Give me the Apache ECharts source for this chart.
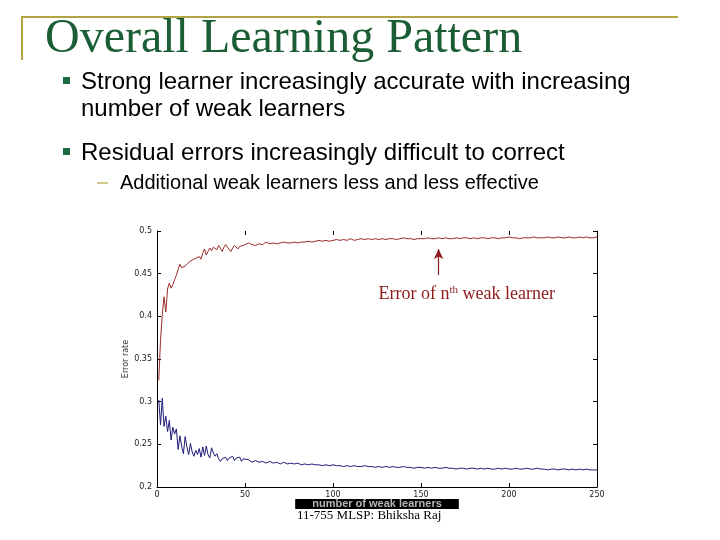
<!DOCTYPE html>
<html><head><meta charset="utf-8">
<script src="https://cdn.jsdelivr.net/npm/echarts@6/dist/echarts.min.js"></script>
<style>html,body{margin:0;padding:0;background:#fff}#c{width:720px;height:540px}</style>
</head><body><div id="c"></div>
<script>
// number of weak learners (x positions of samples)
const nValues = [1,2,3,4,5,6,7,8,9,10,11,12,13,14,15,16,17,18,19,20,21,22,23,24,25,26,27,28,29,30,
 31,32,33,34,35,36,37,38,39,40,41,42,43,44,45,46,47,48,49,50,
 52,54,56,58,60,62,64,66,68,70,72,74,76,78,80,82,84,86,88,90,
 92,94,96,98,100,102,104,106,108,110,112,114,116,118,120,122,124,126,128,130,
 132,134,136,138,140,142,144,146,148,150,152,154,156,158,160,162,164,166,168,170,
 172,174,176,178,180,182,184,186,188,190,192,194,196,198,200,202,204,206,208,210,
 212,214,216,218,220,222,224,226,228,230,232,234,236,238,240,242,244,246,248,250];
// error of n-th weak learner (red)
const weakError = [0.325,0.372,0.402,0.423,0.405,0.432,0.439,0.433,0.437,0.443,
 0.448,0.455,0.461,0.457,0.458,0.459,0.460,0.463,0.462,0.466,
 0.464,0.468,0.466,0.470,0.467,0.474,0.479,0.472,0.476,0.480,
 0.477,0.481,0.482,0.478,0.483,0.480,0.476,0.481,0.484,0.481,
 0.479,0.476,0.480,0.483,0.481,0.479,0.482,0.481,0.483,0.481,
 0.486,0.484,0.483,0.485,0.484,0.487,0.485,0.486,0.485,0.486,
 0.487,0.486,0.486,0.487,0.486,0.487,0.487,0.488,0.487,0.488,
 0.489,0.488,0.489,0.488,0.489,0.490,0.489,0.490,0.489,0.491,
 0.489,0.490,0.491,0.490,0.491,0.490,0.491,0.490,0.491,0.490,
 0.491,0.491,0.490,0.491,0.492,0.491,0.491,0.490,0.491,0.491,
 0.491,0.492,0.491,0.491,0.492,0.491,0.492,0.491,0.491,0.492,
 0.491,0.492,0.492,0.491,0.492,0.491,0.492,0.492,0.491,0.492,
 0.492,0.491,0.492,0.492,0.493,0.492,0.492,0.491,0.492,0.492,
 0.492,0.493,0.492,0.492,0.492,0.493,0.492,0.492,0.493,0.492,
 0.492,0.493,0.492,0.492,0.493,0.492,0.493,0.492,0.492,0.493];
// error of strong learner (blue)
const strongError = [0.302,0.273,0.304,0.271,0.283,0.265,0.278,0.255,0.270,0.262,
 0.268,0.244,0.260,0.248,0.239,0.259,0.247,0.238,0.251,0.241,
 0.236,0.243,0.238,0.245,0.235,0.247,0.237,0.248,0.238,0.234,
 0.246,0.240,0.236,0.239,0.233,0.230,0.233,0.232,0.235,0.231,
 0.234,0.232,0.236,0.231,0.234,0.232,0.235,0.230,0.233,0.231,
 0.232,0.229,0.231,0.229,0.230,0.228,0.230,0.228,0.229,0.227,
 0.229,0.227,0.228,0.227,0.228,0.226,0.227,0.226,0.227,0.226,
 0.226,0.225,0.226,0.225,0.226,0.225,0.225,0.224,0.225,0.224,
 0.225,0.224,0.224,0.225,0.224,0.224,0.223,0.224,0.223,0.224,
 0.223,0.224,0.223,0.223,0.224,0.223,0.223,0.222,0.223,0.223,
 0.222,0.223,0.222,0.223,0.222,0.222,0.223,0.222,0.222,0.221,
 0.222,0.222,0.221,0.222,0.222,0.221,0.222,0.221,0.222,0.221,
 0.221,0.222,0.221,0.222,0.221,0.221,0.222,0.221,0.221,0.222,
 0.221,0.221,0.222,0.221,0.221,0.220,0.221,0.221,0.220,0.221,
 0.221,0.220,0.221,0.220,0.221,0.220,0.221,0.220,0.220,0.220];
const arrowFrom = [160, 0.4485], arrowTo = [160, 0.479];
const annotationPos = [176, 0.426];

const chart = echarts.init(document.getElementById('c'), null, {renderer:'canvas'});
const tickFont = {fontFamily:'DejaVu Sans', fontSize:8, color:'#222'};
const pair = arr => nValues.map((n,i)=>[n, arr[i]]);
const gold = '#b3a443';
chart.setOption({
  backgroundColor:'#fff',
  animation:false,
  grid:{left:157, top:231, right:123, bottom:53, containLabel:false},
  xAxis:[{
    type:'value', min:0, max:250, interval:50, position:'bottom',
    axisLine:{show:true, onZero:false, lineStyle:{color:'#000', width:1}},
    axisTick:{show:true, inside:true, length:4, lineStyle:{color:'#000'}},
    axisLabel:Object.assign({margin:4}, tickFont),
    splitLine:{show:false},
    name:'number of weak learners', nameLocation:'middle', nameGap:12, nameMoveOverlap:false,
    nameTextStyle:{fontFamily:'Liberation Sans', fontWeight:'bold', fontSize:11, color:'#b5b5b5',
      backgroundColor:'#000', padding:[0,17,0,17], lineHeight:10, verticalAlign:'top'}
  },{
    type:'value', min:0, max:250, interval:50, position:'top',
    axisLine:{show:false},
    axisTick:{show:true, inside:true, length:4, lineStyle:{color:'#000'}},
    axisLabel:{show:false}, splitLine:{show:false}
  }],
  yAxis:[{
    type:'value', min:0.2, max:0.5, interval:0.05, position:'left',
    axisLine:{show:true, onZero:false, lineStyle:{color:'#000', width:1}},
    axisTick:{show:true, inside:true, length:4, lineStyle:{color:'#000'}},
    axisLabel:Object.assign({margin:5}, tickFont),
    splitLine:{show:false},
    name:'Error rate', nameLocation:'middle', nameGap:27, nameRotate:90, nameMoveOverlap:false,
    nameTextStyle:{fontFamily:'DejaVu Sans', fontSize:8, color:'#333'}
  },{
    type:'value', min:0.2, max:0.5, interval:0.05, position:'right',
    axisLine:{show:true, onZero:false, lineStyle:{color:'#000', width:1}},
    axisTick:{show:true, inside:true, length:4, lineStyle:{color:'#000'}},
    axisLabel:{show:false}, splitLine:{show:false}
  }],
  series:[{
    name:'weak', type:'line', data:pair(weakError), showSymbol:false, symbol:'none',
    lineStyle:{color:'#9b2a2a', width:1},
    markLine:{
      silent:true, symbol:['none','arrow'], symbolSize:[7,10],
      lineStyle:{color:'#8b1a1a', width:1.2, type:'solid'},
      label:{show:false},
      data:[[{coord:arrowFrom},{coord:arrowTo}]]
    }
  },{
    name:'strong', type:'line', data:pair(strongError), showSymbol:false, symbol:'none',
    lineStyle:{color:'#1c1c7a', width:1}
  }]
});
// annotation text placed through the chart's own scale
const p = chart.convertToPixel({gridIndex:0}, annotationPos);
chart.setOption({graphic:[
    {type:'line', shape:{x1:21, y1:17, x2:678, y2:17}, style:{stroke:gold, lineWidth:2}},
    {type:'line', shape:{x1:22, y1:16, x2:22, y2:60}, style:{stroke:gold, lineWidth:2}},
    {type:'text', x:45, y:39, style:{text:'Overall Learning Pattern', font:'48px "Liberation Serif"', fill:'#1b5e36', verticalAlign:'middle'}},
    {type:'rect', shape:{x:63, y:77, width:7, height:7}, style:{fill:'#1f6b40'}},
    {type:'text', x:81, y:82, style:{text:'Strong learner increasingly accurate with increasing', font:'24px "Liberation Sans"', fill:'#000', verticalAlign:'middle'}},
    {type:'text', x:81, y:109, style:{text:'number of weak learners', font:'24px "Liberation Sans"', fill:'#000', verticalAlign:'middle'}},
    {type:'rect', shape:{x:63, y:148, width:7, height:7}, style:{fill:'#1f6b40'}},
    {type:'text', x:81, y:153, style:{text:'Residual errors increasingly difficult to correct', font:'24px "Liberation Sans"', fill:'#000', verticalAlign:'middle'}},
    {type:'line', shape:{x1:97, y1:183, x2:108, y2:183}, style:{stroke:gold, lineWidth:1.2}},
    {type:'text', x:120, y:183, style:{text:'Additional weak learners less and less effective', font:'20px "Liberation Sans"', fill:'#000', verticalAlign:'middle'}},
    {type:'text', x:297, y:516, style:{text:'11-755 MLSP: Bhiksha Raj', font:'13px "Liberation Serif"', fill:'#000', verticalAlign:'middle'}},
    {type:'text', x:p[0], y:p[1],
     style:{rich:{a:{font:'18px "Liberation Serif"', fill:'#8b1a1a'}, s:{font:'11px "Liberation Serif"', fill:'#8b1a1a', padding:[0,0,9,0]}},
       text:'{a|Error of n}{s|th}{a| weak learner}', align:'center', verticalAlign:'middle'}}
]});
</script></body></html>
